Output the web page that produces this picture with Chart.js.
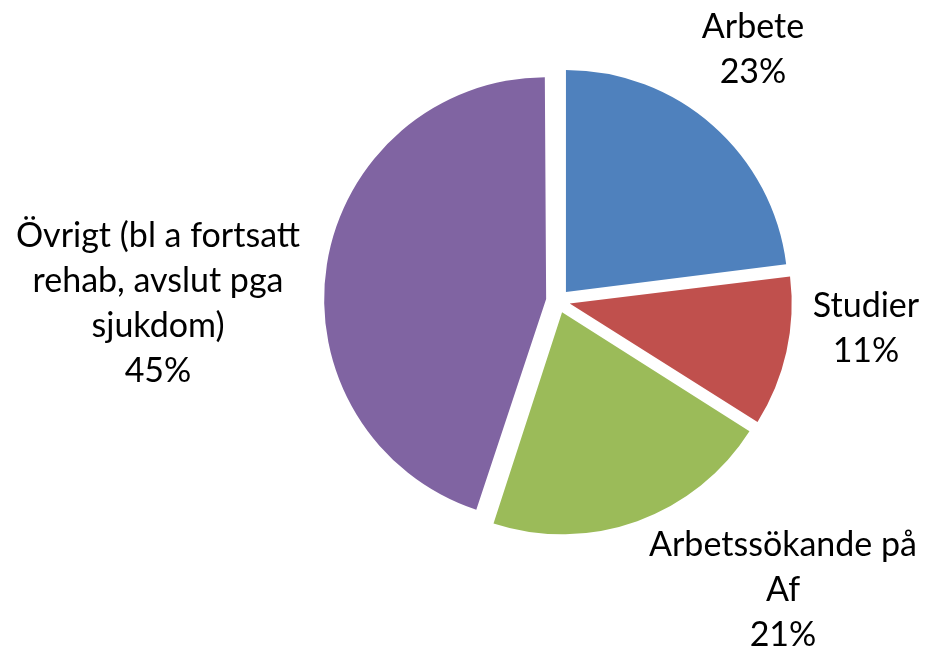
<!DOCTYPE html>
<html><head><meta charset="utf-8">
<script src="https://cdn.jsdelivr.net/npm/chart.js@4/dist/chart.umd.min.js"></script>
<style>html,body{margin:0;padding:0;background:#fff}#wrap{width:926px;height:653px;position:relative}</style>
</head><body><div id="wrap"><canvas id="c" width="926" height="653"></canvas></div>
<script>
// ---- data ----
const categories = ['Arbete', 'Studier', 'Arbetssökande på Af', 'Övrigt (bl a fortsatt rehab, avslut pga sjukdom)'];
const labelLines = [['Arbete'], ['Studier'], ['Arbetssökande på', 'Af'], ['Övrigt (bl a fortsatt', 'rehab, avslut pga', 'sjukdom)']];
const values = [23, 11, 21, 45];
const colors = ['#4F81BD', '#C0504D', '#9BBB59', '#8064A2'];

// ---- layout (text placement, not data) ----
const RADIUS = 222;
const EXPLODE = 48; // Chart.js translates arcs by offset/4
const labelLayout = [
  { x: 753, y: 38 },
  { x: 866, y: 317 },
  { x: 783, y: 556 },
  { x: 158, y: 247 }
];
const LINE_H = 45;
const FONT = '34px Lato, "Open Sans", sans-serif';

const equalRadius = {
  id: 'equalRadius',
  afterDatasetsUpdate(chart) {
    chart.getDatasetMeta(0).data.forEach(arc => {
      const off = (arc.options.offset || 0) / 4;
      const circ = arc.endAngle - arc.startAngle;
      const fix = 1 - Math.sin(Math.min(Math.PI, circ));
      arc.outerRadius = RADIUS - off * fix;
    });
  }
};

const outsideLabels = {
  id: 'outsideLabels',
  afterDraw(chart) {
    const ctx = chart.ctx;
    const total = values.reduce((a, b) => a + b, 0);
    ctx.save();
    ctx.font = FONT;
    ctx.fillStyle = '#000';
    ctx.textAlign = 'center';
    ctx.textBaseline = 'alphabetic';
    labelLines.forEach((lines, i) => {
      const all = lines.concat([Math.round(values[i] / total * 100) + '%']);
      const p = labelLayout[i];
      all.forEach((t, j) => ctx.fillText(t, p.x, p.y + j * LINE_H));
    });
    ctx.restore();
  }
};

new Chart(document.getElementById('c'), {
  type: 'pie',
  data: {
    labels: categories,
    datasets: [{
      data: values,
      backgroundColor: colors,
      borderWidth: 0,
      offset: EXPLODE,
      hoverOffset: EXPLODE
    }]
  },
  options: {
    responsive: false,
    animation: false,
    events: [],
    radius: RADIUS,
    layout: { padding: { left: 190, right: 0, top: 0, bottom: 51 } },
    plugins: { legend: { display: false }, tooltip: { enabled: false } }
  },
  plugins: [equalRadius, outsideLabels]
});
</script>
</body></html>
